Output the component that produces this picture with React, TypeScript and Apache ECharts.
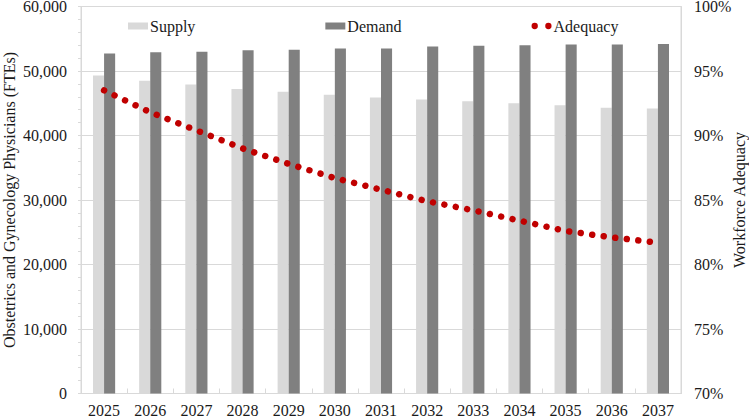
import React, { useEffect, useRef } from "react";
import * as echarts from "echarts";

const years = ["2025", "2026", "2027", "2028", "2029", "2030", "2031", "2032", "2033", "2034", "2035", "2036", "2037"];
const supply = [49300, 48500, 47900, 47200, 46800, 46300, 45900, 45600, 45300, 45000, 44700, 44300, 44200];
const demand = [52700, 52900, 53000, 53200, 53300, 53500, 53500, 53800, 53900, 54000, 54100, 54100, 54200];
const adequacy = [93.5, 91.8, 90.4, 89.0, 87.8, 86.7, 85.8, 84.9, 84.2, 83.4, 82.6, 82.1, 81.7];

const FONT = "'Liberation Serif', 'Times New Roman', serif";
const TEXT = "#1a1a1a";
const GRID = "#d9d9d9";
const FS = 16;

export default function App() {
  const ref = useRef<HTMLDivElement>(null);

  useEffect(() => {
    if (!ref.current) return;
    const chart = echarts.init(ref.current, null, { renderer: "svg" });
    chart.setOption({
      animation: false,
      textStyle: { fontFamily: FONT, color: TEXT },
      legend: {
        left: 128,
        top: 18,
        padding: 0,
        itemGap: 130,
        itemWidth: 20,
        itemHeight: 7,
        textStyle: { fontFamily: FONT, fontSize: FS, color: TEXT, padding: [0, 0, 0, -3] },
        data: [
          { name: "Supply", icon: "rect" },
          { name: "Demand", icon: "rect" },
          {
            name: "Adequacy",
            icon: "path://M0,3a3,3 0 1,0 6,0a3,3 0 1,0 -6,0ZM13,3a3,3 0 1,0 6,0a3,3 0 1,0 -6,0Z",
          },
        ],
      },
      grid: {
        left: 81,
        right: 68,
        top: 6.5,
        bottom: 25.5,
        containLabel: false,
        outerBoundsMode: "none",
        show: true,
        borderColor: GRID,
        borderWidth: 1,
      },
      xAxis: {
        type: "category",
        data: years,
        axisLine: { lineStyle: { color: GRID } },
        axisTick: { show: true, inside: true, length: 5, lineStyle: { color: GRID } },
        axisLabel: { fontFamily: FONT, fontSize: FS, color: TEXT, margin: 9 },
      },
      yAxis: [
        {
          type: "value",
          min: 0,
          max: 60000,
          interval: 10000,
          name: "Obstetrics and Gynecology Physicians (FTEs)",
          nameLocation: "middle",
          nameGap: 64,
          nameMoveOverlap: false,
          nameTextStyle: { fontFamily: FONT, fontSize: FS, color: TEXT },
          axisLine: { show: true, lineStyle: { color: GRID } },
          axisTick: { show: true, length: 3, lineStyle: { color: GRID } },
          minorTick: { show: true, splitNumber: 5, length: 3, lineStyle: { color: GRID } },
          splitLine: { show: true, lineStyle: { color: GRID } },
          axisLabel: {
            fontFamily: FONT,
            fontSize: FS,
            color: TEXT,
            margin: 14,
            formatter: (v: number) => v.toLocaleString("en-US"),
          },
        },
        {
          type: "value",
          min: 70,
          max: 100,
          interval: 5,
          name: "Workforce Adequacy",
          nameLocation: "middle",
          nameGap: 50,
          nameMoveOverlap: false,
          nameTextStyle: { fontFamily: FONT, fontSize: FS, color: TEXT },
          axisLine: { show: true, lineStyle: { color: GRID } },
          axisTick: { show: false },
          splitLine: { show: false },
          axisLabel: {
            fontFamily: FONT,
            fontSize: FS,
            color: TEXT,
            margin: 13,
            formatter: "{value}%",
          },
        },
      ],
      series: [
        {
          name: "Supply",
          type: "bar",
          data: supply,
          barGap: "0%",
          barCategoryGap: "52%",
          itemStyle: { color: "#d9d9d9" },
        },
        {
          name: "Demand",
          type: "bar",
          data: demand,
          barGap: "0%",
          barCategoryGap: "52%",
          itemStyle: { color: "#808080" },
        },
        {
          name: "Adequacy",
          type: "line",
          yAxisIndex: 1,
          data: adequacy,
          symbol: "none",
          showSymbol: false,
          itemStyle: { color: "#c00000" },
          lineStyle: { color: "#c00000", width: 6.5, type: [0.01, 11.6], cap: "round" },
          z: 5,
        },
      ],
    });
    return () => chart.dispose();
  }, []);

  return (
    <div
      ref={ref}
      style={{ position: "fixed", left: 0, top: 0, width: 749, height: 419, background: "#fff" }}
    />
  );
}
